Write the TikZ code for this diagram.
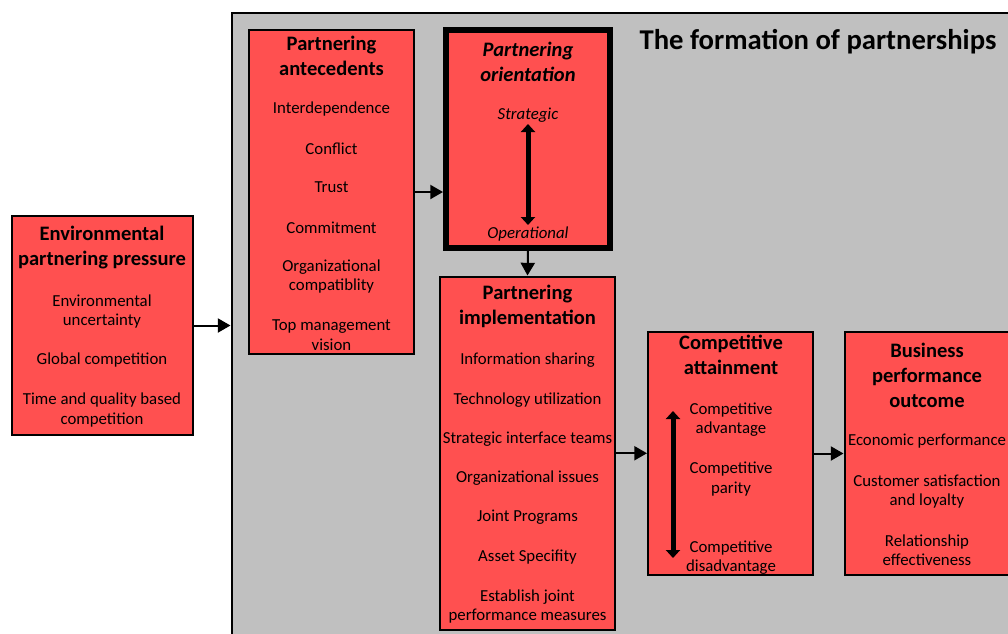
\documentclass[tikz,border=0pt]{standalone}
\usepackage{fontspec}
\setmainfont{Carlito}
\usetikzlibrary{arrows.meta,positioning,fit}
\definecolor{boxred}{RGB}{255,80,80}
\definecolor{framegray}{RGB}{192,192,192}
\tikzset{
  box/.style={draw=black, line width=1.5pt, fill=boxred, inner sep=0pt},
  heading/.style={align=center, font=\fontsize{15.4}{18.75}\selectfont\bfseries},
  item/.style={align=center, font=\fontsize{12.6}{14.6}\selectfont},
  arr/.style={line width=1.5pt, -{Triangle[length=9.5pt,width=10.5pt]}},
  dblarr/.style={line width=3.75pt, {Triangle[length=6pt,width=10.5pt]}-{Triangle[length=6pt,width=10.5pt]}}
}

\begin{document}
\begin{tikzpicture}[x=0.75pt,y=-0.75pt]
  \useasboundingbox (0,0) rectangle (1008,633);
  \clip (0,0) rectangle (1008,633);
  % frame round the formation stages
  \node[draw=black, line width=1.5pt, fill=framegray, inner sep=0pt, fit={(231.5,12.5) (1030,660)}] (frame) {};
  \node[font=\fontsize{21.5}{25}\selectfont\bfseries] (title) at (818,42) {The formation of partnerships};

  % environmental pressure
  \node[box, fit={(12,216) (193,435)}] (env) {};
  \node[heading] (env-head) at (102,247.5) {Environmental\\partnering pressure};
  \foreach \t/\y [count=\i] in {{Environmental\\uncertainty}/311.5, Global competition/360.5, {Time and quality based\\competition}/410}
    \node[item] (env-\i) at (102,\y) {\t};

  % antecedents
  \node[box, fit={(249,30) (414,354)}] (ante) {};
  \node[heading] (ante-head) at (331.5,55.5) {Partnering\\antecedents};
  \foreach \t/\y [count=\i] in {Interdependence/109.5, Conflict/148.5, Trust/187.5, Commitment/227.5, {Organizational\\compatiblity}/276.5, {Top management\\vision}/335}
    \node[item] (ante-\i) at (331.5,\y) {\t};

  % orientation
  \node[box, line width=4.5pt, fill=boxred, fit={(446,30) (610,248)}] (orient) {};
  \node[heading, font=\fontsize{15.4}{18.75}\selectfont\bfseries\itshape] (orient-head) at (528,61.5) {Partnering\\orientation};
  \node[item, font=\fontsize{12.6}{14.6}\selectfont\itshape] (strat) at (528,115.5) {Strategic};
  \node[item, font=\fontsize{12.6}{14.6}\selectfont\itshape] (oper) at (528,234.5) {Operational};
  \coordinate (orient-top) at (528,124);
  \coordinate (orient-bot) at (528,225);

  % implementation
  \node[box, fit={(440,276.5) (615,630)}] (impl) {};
  \node[heading] (impl-head) at (527.5,306.5) {Partnering\\implementation};
  \foreach \t/\y [count=\i] in {Information sharing/360.5, Technology utilization/400.5, Strategic interface teams/439.5, Organizational issues/478.5, Joint Programs/517.5, Asset Specifity/557.5, {Establish joint\\performance measures}/606.5}
    \node[item] (impl-\i) at (527.5,\y) {\t};

  % competitive attainment
  \node[box, fit={(648,332) (813,575)}] (comp) {};
  \node[heading] (comp-head) at (731,355) {Competitive\\attainment};
  \foreach \t/\y [count=\i] in {{Competitive\\advantage}/419.5, {Competitive\\parity}/479, {Competitive\\disadvantage}/557.5}
    \node[item] (comp-\i) at (731,\y) {\t};
  \coordinate (comp-top) at (673,411);
  \coordinate (comp-bot) at (673,558);

  % business outcome
  \node[box, fit={(844.5,332) (1010,575)}] (bus) {};
  \node[heading] (bus-head) at (927,375) {Business\\performance\\outcome};
  \foreach \t/\y [count=\i] in {Economic performance/441.5, {Customer satisfaction\\and loyalty}/491.5, {Relationship\\effectiveness}/550}
    \node[item] (bus-\i) at (927,\y) {\t};

  % connectors
  \draw[arr] (env.east) -- (env.east -| frame.west);
  \draw[arr] (ante.east) -- (ante.east -| orient.west);
  \draw[arr] (orient.south) -- (impl.north);
  \draw[arr] (impl.east) -- (impl.east -| comp.west);
  \draw[arr] (comp.east) -- (comp.east -| bus.west);
  \draw[dblarr] (orient-top) -- (orient-bot);
  \draw[dblarr] (comp-top) -- (comp-bot);
\end{tikzpicture}
\end{document}
